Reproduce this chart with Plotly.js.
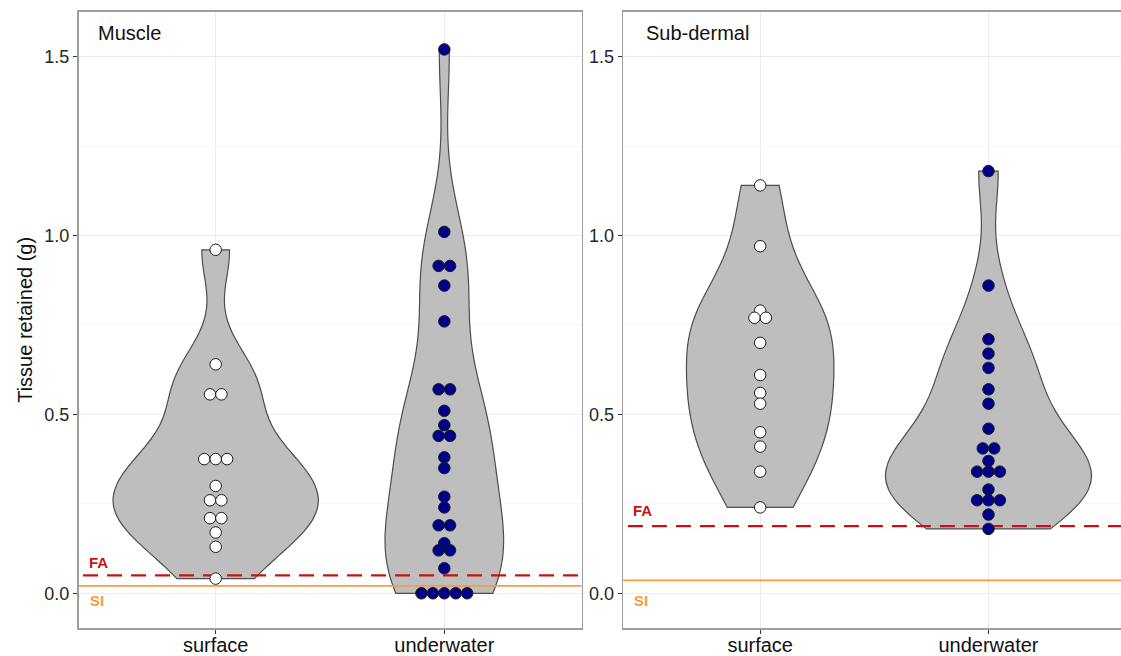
<!DOCTYPE html>
<html>
<head>
<meta charset="utf-8">
<script src="https://cdn.plot.ly/plotly-3.0.1.min.js"></script>
<style>html,body{margin:0;padding:0;background:#fff;}#chart{width:1121px;height:656px;}</style>
</head>
<body>
<div id="chart"></div>
<script>
// ---- data ----
var categories = ['surface', 'underwater'];
var panelLabels = ['Muscle', 'Sub-dermal'];
var yTickVals = [0, 0.5, 1.0, 1.5];
var yTickText = ['0.0', '0.5', '1.0', '1.5'];

var muscleSurface = [0.96, 0.64, 0.556, 0.556, 0.375, 0.375, 0.375, 0.30, 0.26, 0.26, 0.21, 0.21, 0.17, 0.13, 0.041];
var muscleUnderwater = [1.52, 1.01, 0.915, 0.915, 0.86, 0.76, 0.57, 0.57, 0.51, 0.47, 0.44, 0.44, 0.38, 0.35, 0.27, 0.24, 0.19, 0.19, 0.14, 0.12, 0.12, 0.07, 0, 0, 0, 0, 0];
var subSurface = [1.14, 0.97, 0.79, 0.77, 0.77, 0.70, 0.61, 0.56, 0.53, 0.45, 0.41, 0.34, 0.24];
var subUnderwater = [1.18, 0.86, 0.71, 0.67, 0.63, 0.57, 0.53, 0.46, 0.405, 0.405, 0.37, 0.34, 0.34, 0.34, 0.29, 0.26, 0.26, 0.26, 0.22, 0.18];

var thresholdFA = [0.05, 0.188];   // Muscle, Sub-dermal
var thresholdSI = [0.021, 0.036];  // Muscle, Sub-dermal
var thresholdLabels = ['FA', 'SI'];

// ---- helpers ----
function quantile(sorted, p) {
  var h = (sorted.length - 1) * p, lo = Math.floor(h), hi = Math.ceil(h);
  return sorted[lo] + (h - lo) * (sorted[hi] - sorted[lo]);
}
function nrd0(v) {
  var n = v.length, mean = v.reduce(function(a,b){return a+b;},0)/n;
  var sd = Math.sqrt(v.reduce(function(a,b){return a+(b-mean)*(b-mean);},0)/(n-1));
  var s = v.slice().sort(function(a,b){return a-b;});
  var iqr = quantile(s,0.75) - quantile(s,0.25);
  var lo = Math.min(sd, iqr/1.34);
  if (!lo) lo = sd || Math.abs(s[0]) || 1;
  return 0.9 * lo * Math.pow(n, -0.2);
}
// centred horizontal stacking of equal values (dotplot style)
function stackX(v, center, spacing) {
  var counts = {}, seen = {};
  v.forEach(function(d){ counts[d] = (counts[d]||0) + 1; });
  return v.map(function(d){
    var i = seen[d] || 0; seen[d] = i + 1;
    return center + (i - (counts[d]-1)/2) * spacing;
  });
}

var FONT = 'Liberation Sans, Arial, Helvetica, sans-serif';
var violinFill = '#BEBEBE', violinLine = '#4D4D4D';
var dotColors = ['#FFFFFF', '#00008B'];
var redCol = '#CC1010', orangeCol = '#FF9A3C';

var panels = [
  {groups: [muscleSurface, muscleUnderwater], widths: [0.896, 0.519], xa: 'x', ya: 'y'},
  {groups: [subSurface, subUnderwater], widths: [0.646, 0.903], xa: 'x2', ya: 'y2'}
];

var traces = [];
panels.forEach(function(p, pi){
  p.groups.forEach(function(g, gi){
    traces.push({
      type: 'violin', x0: gi + 1, y: g, xaxis: p.xa, yaxis: p.ya,
      width: p.widths[gi], scalemode: 'width', scalegroup: 'g' + pi + '_' + gi,
      spanmode: 'hard', bandwidth: nrd0(g), points: false,
      box: {visible: false}, meanline: {visible: false},
      fillcolor: violinFill, line: {color: violinLine, width: 1.2},
      hoverinfo: 'skip', showlegend: false, opacity: 1
    });
  });
  // threshold lines
  traces.push({
    type: 'scatter', mode: 'lines', x: [0, 3], y: [thresholdSI[pi], thresholdSI[pi]],
    xaxis: p.xa, yaxis: p.ya, line: {color: orangeCol, width: 1.8}, hoverinfo: 'skip', showlegend: false
  });
  traces.push({
    type: 'scatter', mode: 'lines', x: [0, 3], y: [thresholdFA[pi], thresholdFA[pi]],
    xaxis: p.xa, yaxis: p.ya, line: {color: redCol, width: 2.2, dash: '15px,9px'}, hoverinfo: 'skip', showlegend: false
  });
  p.groups.forEach(function(g, gi){
    traces.push({
      type: 'scatter', mode: 'markers', x: stackX(g, gi + 1, 0.05), y: g,
      xaxis: p.xa, yaxis: p.ya,
      marker: {size: 11.5, color: dotColors[gi], line: {color: '#1A1A1A', width: 1}},
      hoverinfo: 'skip', showlegend: false, cliponaxis: false
    });
  });
});

var W = 1121, H = 656;
var yDom = [(H - 628) / H, (H - 11.7) / H];
var yRange = [-0.097, 1.6255];

function yAxis(extra) {
  var a = {
    range: yRange, domain: yDom, tickvals: yTickVals, ticktext: yTickText,
    showgrid: true, gridcolor: '#EBEBEB', gridwidth: 1,
    minor: {tickvals: [0.25, 0.75, 1.25], showgrid: true, gridcolor: '#F3F3F3', gridwidth: 0.7, ticks: ''},
    zeroline: false, ticks: 'outside', ticklen: 4, tickwidth: 1, tickcolor: '#333333',
    tickfont: {family: FONT, size: 18, color: '#262626'},
    showline: true, linecolor: '#9E9E9E', linewidth: 1.5, fixedrange: true
  };
  for (var k in extra) a[k] = extra[k];
  return a;
}
function xAxis(extra) {
  var a = {
    tickvals: [1, 2], ticktext: categories, showgrid: true, gridcolor: '#EBEBEB', gridwidth: 1,
    zeroline: false, ticks: 'outside', ticklen: 4, tickwidth: 1, tickcolor: '#333333',
    tickfont: {family: FONT, size: 20, color: '#111111'}, ticklabelstandoff: -6,
    showline: true, mirror: true, linecolor: '#9E9E9E', linewidth: 1.5, fixedrange: true
  };
  for (var k in extra) a[k] = extra[k];
  return a;
}

var annotations = [
  {text: panelLabels[0], xref: 'x', yref: 'paper', x: 0.475, y: (H - 33) / H, xanchor: 'left', yanchor: 'middle', showarrow: false, font: {family: FONT, size: 20, color: '#111'}},
  {text: panelLabels[1], xref: 'x2', yref: 'paper', x: 0.49, y: (H - 33) / H, xanchor: 'left', yanchor: 'middle', showarrow: false, font: {family: FONT, size: 20, color: '#111'}}
];
[0, 1].forEach(function(pi){
  var xr = pi === 0 ? 'x' : 'x2', yr = pi === 0 ? 'y' : 'y2';
  annotations.push({text: '<b>' + thresholdLabels[0] + '</b>', xref: xr, yref: yr, x: 0.486, y: thresholdFA[pi] + 0.036 + pi * 0.008,
    showarrow: false, font: {family: FONT, size: 15, color: redCol}});
  annotations.push({text: '<b>' + thresholdLabels[1] + '</b>', xref: xr, yref: yr, x: 0.48, y: -0.02,
    showarrow: false, font: {family: FONT, size: 15, color: orangeCol}});
});

var layout = {
  width: W, height: H, margin: {l: 0, r: 0, t: 0, b: 0},
  paper_bgcolor: '#FFFFFF', plot_bgcolor: '#FFFFFF',
  violinmode: 'overlay', showlegend: false,
  font: {family: FONT},
  xaxis: xAxis({domain: [78.5 / W, 581.5 / W], range: [0.4, 2.6], anchor: 'y'}),
  yaxis: yAxis({anchor: 'x', mirror: true,
    title: {text: 'Tissue retained (g)', font: {family: FONT, size: 20, color: '#111'}, standoff: 6}}),
  xaxis2: xAxis({domain: [623.2 / W, 1], range: [0.4, 0.4 + (W - 623.2) / 228.3], anchor: 'y2'}),
  yaxis2: yAxis({anchor: 'x2', mirror: false}),
  annotations: annotations
};

Plotly.newPlot('chart', traces, layout, {displayModeBar: false, staticPlot: true});
</script>
</body>
</html>
